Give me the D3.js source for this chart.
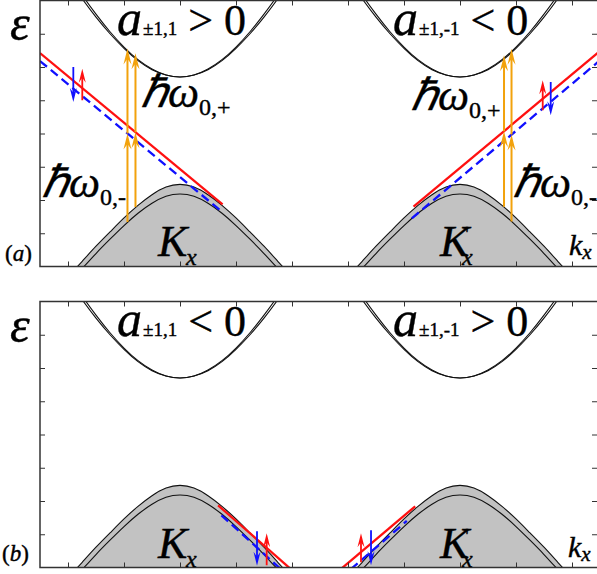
<!DOCTYPE html>
<html>
<head>
<meta charset="utf-8">
<script src="https://cdn.jsdelivr.net/npm/d3@7"></script>
<style>
  body { margin: 0; background: #fff; }
  svg { display: block; }
</style>
</head>
<body>
<svg id="chart" width="597" height="574"></svg>
<script>
// ---- data (k in tick units, energy in tick units) ----
const kTicks = [-4.5, -3.5, -2.5, -1.5, -0.5, 0.5, 1.5, 2.5, 3.5, 4.5];
const eTicks = [1, 2, 3, 4, 5, 6, 7];
const valleyK = [-2.5, 2.5];

// band curves around each valley, sampled at bandDk
const bandDk = [-2, -1.75, -1.5, -1.25, -1, -0.75, -0.5, -0.25, 0, 0.25, 0.5, 0.75, 1, 1.25, 1.5, 1.75, 2];
const condOuter = [8.66, 8.06, 7.50, 7.00, 6.56, 6.19, 5.92, 5.76, 5.70, 5.76, 5.92, 6.19, 6.56, 7.00, 7.50, 8.06, 8.66];
const condInner = [8.80, 8.17, 7.59, 7.06, 6.60, 6.22, 5.94, 5.76, 5.70, 5.76, 5.94, 6.22, 6.60, 7.06, 7.59, 8.17, 8.80];
const valOuter = [-0.31, 0.15, 0.61, 1.04, 1.46, 1.84, 2.16, 2.39, 2.47, 2.39, 2.16, 1.84, 1.46, 1.04, 0.61, 0.15, -0.31];
const valInner = [-0.53, -0.07, 0.39, 0.82, 1.23, 1.60, 1.90, 2.11, 2.18, 2.11, 1.90, 1.60, 1.23, 0.82, 0.39, -0.07, -0.53];

// edge-state lines [ [k, E], [k, E] ]
const redLinesA = [[[-5, 6.42], [-1.74, 1.87]], [[1.67, 1.80], [5, 6.48]]];
const blueLinesA = [[[-5, 6.18], [-1.79, 1.70]], [[1.64, 1.45], [5, 6.20]]];
const redLinesB = [[[-1.82, 1.87], [-0.52, -0.05]], [[0.37, -0.05], [1.70, 1.84]]];
const blueLinesB = [[[-1.76, 1.57], [-0.70, -0.05]], [[0.55, -0.05], [1.55, 1.40]]];

// spin arrows [k, tail E, tip E]
const spinUpA = [[-4.245, 5.0, 5.95], [3.977, 4.70, 5.60]];
const spinDownA = [[-4.405, 6.0, 4.95], [4.12, 5.55, 4.55]];
const spinUpB = [[-0.952, 0.07, 1.03], [0.732, 0.16, 1.03]];
const spinDownB = [[-1.125, 1.09, 0.05], [0.911, 1.12, 0.07]];

// optical transitions (panel a) [k, start E, middle E, end E]
const photons = [[-3.438, 1.34, 4.00, 6.56], [-3.295, 1.79, 4.04, 6.41], [3.286, 1.80, 4.07, 6.35], [3.42, 1.35, 3.97, 6.55]];

const RED = "#ff1010", BLUE = "#1010ff", ORANGE = "#f2a20c", GRAY = "#c2c2c2";
const SERIF = "'Liberation Serif', 'Times New Roman', serif";

const svg = d3.select("#chart");
const x = d3.scaleLinear().domain([-5, 5]).range([40, 600]);
const PH = 266;

function arrow(g, px, y1, y2, color, len, wid, sw) {
  const dir = y2 > y1 ? 1 : -1;
  g.append("line")
    .attr("x1", px).attr("x2", px)
    .attr("y1", y1).attr("y2", y2 - dir * len * 0.6)
    .attr("stroke", color).attr("stroke-width", sw);
  g.append("path")
    .attr("d", `M${px},${y2} L${px - wid / 2},${y2 - dir * len} L${px},${y2 - dir * len * 0.65} L${px + wid / 2},${y2 - dir * len} Z`)
    .attr("fill", color);
}

function panel(id, top, redL, blueL, ups, downs, withPhotons) {
  const y = d3.scaleLinear().domain([0, 8]).range([top + PH, top]);
  const g = svg.append("g");

  g.append("clipPath").attr("id", "clip" + id)
    .append("rect").attr("x", 40).attr("y", top).attr("width", 560).attr("height", PH);
  const c = g.append("g").attr("clip-path", `url(#clip${id})`);

  const line = d3.line().x(d => x(d[0])).y(d => y(d[1])).curve(d3.curveNatural);
  const area = d3.area().x(d => x(d[0])).y0(y(-1)).y1(d => y(d[1])).curve(d3.curveNatural);

  valleyK.forEach(kc => {
    const pts = arr => bandDk.map((dk, i) => [kc + dk, arr[i]]);
    c.append("path").attr("d", area(pts(valOuter))).attr("fill", GRAY);
    [valOuter, valInner, condOuter, condInner].forEach(arr => {
      c.append("path").attr("d", line(pts(arr)))
        .attr("fill", "none").attr("stroke", "#111").attr("stroke-width", 1.1);
    });
  });

  const straight = d3.line().x(d => x(d[0])).y(d => y(d[1]));
  blueL.forEach(l => c.append("path").attr("d", straight(l))
    .attr("stroke", BLUE).attr("stroke-width", 2.3).attr("stroke-dasharray", "9,5").attr("fill", "none"));
  redL.forEach(l => c.append("path").attr("d", straight(l))
    .attr("stroke", RED).attr("stroke-width", 2.3).attr("fill", "none"));

  downs.forEach(a => arrow(c, x(a[0]), y(a[1]), y(a[2]), BLUE, 14, 7, 1.8));
  ups.forEach(a => arrow(c, x(a[0]), y(a[1]), y(a[2]), RED, 14, 7, 1.8));

  if (withPhotons) {
    photons.forEach(p => {
      arrow(c, x(p[0]), y(p[1]), y(p[2]), ORANGE, 16, 8, 2);
      arrow(c, x(p[0]), y(p[2]), y(p[3]), ORANGE, 16, 8, 2);
    });
  }

  // frame with inward ticks on all four sides
  const fmt = () => "";
  const axes = [
    [d3.axisBottom(x).tickValues(kTicks), `translate(0,${top + PH})`],
    [d3.axisTop(x).tickValues(kTicks), `translate(0,${top})`],
    [d3.axisLeft(y).tickValues(eTicks), "translate(40,0)"],
    [d3.axisRight(y).tickValues(eTicks), "translate(597,0)"]
  ];
  axes.forEach(([ax, tr]) => {
    const a = g.append("g").attr("transform", tr)
      .call(ax.tickSizeInner(-5).tickSizeOuter(0).tickFormat(fmt));
    a.select(".domain").remove();
    a.selectAll("line").attr("stroke", "#333");
  });
  g.append("rect").attr("x", 40).attr("y", top).attr("width", 560).attr("height", PH)
    .attr("fill", "none").attr("stroke", "#333").attr("stroke-width", 1.5);
  return g;
}

function label(g, px, py, parts) {
  const t = g.append("text").attr("x", px).attr("y", py)
    .attr("font-family", SERIF).attr("fill", "#000")
    .attr("stroke", "#000").attr("stroke-width", 0.4)
    .style("white-space", "pre");
  parts.forEach(p => {
    const s = t.append("tspan").text(p.t).attr("font-size", p.s);
    if (p.i) s.attr("font-style", "italic");
    if (p.dx) s.attr("dx", p.dx);
    if (p.dy) s.attr("dy", p.dy);
  });
  return t;
}

function kLabel(g, px, py, prime) {
  label(g, px, py, [{ t: "K", s: 44, i: 1 }]);
  if (prime) {
    label(g, px + 25, py - 15, [{ t: "'", s: 22 }]);
    label(g, px + 22, py + 9, [{ t: "x", s: 24, i: 1 }]);
  } else {
    label(g, px + 28, py + 9, [{ t: "x", s: 24, i: 1 }]);
  }
}

// panel (a)
const ga = panel("a", 0.5, redLinesA, blueLinesA, spinUpA, spinDownA, true);
label(ga, 10, 40, [{ t: "ε", s: 50, i: 1 }]);
label(ga, 117, 35, [{ t: "a", s: 50, i: 1 }, { t: "±1,1", s: 19, dx: 1 }, { t: " > 0", s: 44 }]);
label(ga, 393, 35, [{ t: "a", s: 50, i: 1 }, { t: "±1,-1", s: 19, dx: 1 }, { t: " < 0", s: 44 }]);
label(ga, 141, 107, [{ t: "ℏω", s: 44, i: 1 }, { t: "0,+", s: 24, dy: 8 }]);
label(ga, 411, 110, [{ t: "ℏω", s: 44, i: 1 }, { t: "0,+", s: 24, dy: 8 }]);
label(ga, 42, 197, [{ t: "ℏω", s: 44, i: 1 }, { t: "0,-", s: 24, dy: 8 }]);
label(ga, 513, 197, [{ t: "ℏω", s: 44, i: 1 }, { t: "0,-", s: 24, dy: 8 }]);
kLabel(ga, 158, 256, false);
kLabel(ga, 440, 256, true);
label(ga, 5, 261, [{ t: "(", s: 23 }, { t: "a", s: 23, i: 1 }, { t: ")", s: 23 }]);
label(ga, 569, 255, [{ t: "k", s: 30, i: 1 }, { t: "x", s: 21, i: 1, dy: 4 }]);

// panel (b)
const gb = panel("b", 301.5, redLinesB, blueLinesB, spinUpB, spinDownB, false);
label(gb, 10, 341.5, [{ t: "ε", s: 50, i: 1 }]);
label(gb, 117, 336, [{ t: "a", s: 50, i: 1 }, { t: "±1,1", s: 19, dx: 1 }, { t: " < 0", s: 44 }]);
label(gb, 393, 336, [{ t: "a", s: 50, i: 1 }, { t: "±1,-1", s: 19, dx: 1 }, { t: " > 0", s: 44 }]);
kLabel(gb, 158, 558, false);
kLabel(gb, 440, 558, true);
label(gb, 2, 561, [{ t: "(", s: 23 }, { t: "b", s: 23, i: 1 }, { t: ")", s: 23 }]);
label(gb, 568, 557, [{ t: "k", s: 30, i: 1 }, { t: "x", s: 21, i: 1, dy: 4 }]);
</script>
</body>
</html>
